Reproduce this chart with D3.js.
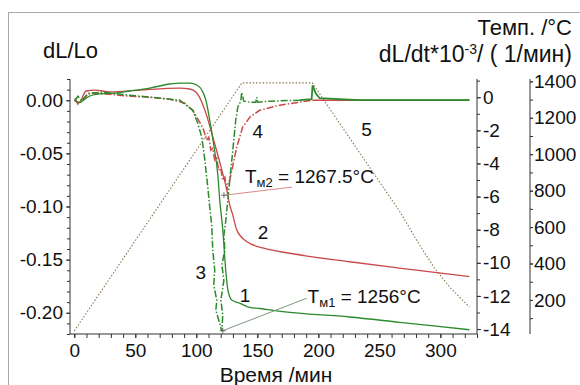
<!DOCTYPE html>
<html>
<head>
<meta charset="utf-8">
<script src="https://cdn.jsdelivr.net/npm/d3@7"></script>
<style>
  body { margin: 0; background: #fff; }
  svg { display: block; font-family: "Liberation Sans", Arial, sans-serif; }
  .axis path, .axis line { stroke: #333; }
  .axis text { font-size: 19px; fill: #111; font-family: "Liberation Sans", Arial, sans-serif; }
</style>
</head>
<body>
<svg id="chart" width="580" height="385"></svg>
<script>
// curve 1 - dL/Lo, green
const green1Time = [0, 4.7, 8.7, 12.8, 21, 33.3, 45.6, 62, 78.3, 86.5, 94.7, 100.4, 104.5, 107.8, 111, 114.3, 117.6, 119.2, 121.7, 124.1, 125.8, 129, 135.6, 143.8, 151.9, 170.7, 225.6, 266.5, 323.8];
const green1Val = [0, -0.002, 0.001, 0.004, 0.006, 0.0068, 0.0087, 0.0115, 0.0153, 0.0162, 0.0162, 0.0144, 0.0096, 0.0002, -0.0186, -0.042, -0.070, -0.094, -0.122, -0.160, -0.178, -0.188, -0.191, -0.195, -0.196, -0.199, -0.204, -0.209, -0.216];

// curve 2 - dL/Lo, red
const red2Time = [0, 3.8, 9.6, 16.9, 29.2, 53.8, 86.5, 94.7, 100.4, 107, 113.5, 120.9, 125, 127.4, 129.9, 133.1, 141.3, 154.4, 176.5, 225.6, 266.5, 323.8];
const red2Val = [0, -0.0026, 0.0087, 0.0096, 0.0078, 0.0096, 0.0115, 0.0106, 0.0068, -0.0092, -0.0346, -0.0656, -0.0845, -0.0986, -0.108, -0.122, -0.133, -0.139, -0.144, -0.152, -0.158, -0.166];

// curve 3 - dL/dt, green
const green3Time = [0.6, 3, 6.3, 11.2, 23.5, 37.4, 62, 78.3, 86.5, 97.1, 101.2, 104.5, 107, 109.4, 111, 112.6, 113.5, 115.1, 114.3, 116.8, 116, 118.4, 120.9, 121.7, 120.1, 122.6, 120.9, 123.4, 122.6, 124.2, 125.8, 127.4, 129.1, 130.7, 132.3, 134, 136.4, 137.2, 138.9, 143.8, 148.7, 149.5, 150.3, 160.1, 184.7, 194.5, 195.3, 197.8, 201.1, 233.8, 323.8];
const green3Val = [-0.18, 0.06, -0.24, 0.24, 0.3, 0.18, 0, -0.12, -0.18, -0.79, -1.57, -2.42, -3.8, -5.43, -6.64, -7.73, -9.24, -10.45, -11.35, -12.26, -12.86, -13.47, -14.13, -13.16, -12.26, -11.05, -10.14, -9.24, -8.33, -7.43, -6.22, -5.01, -3.8, -2.6, -1.39, -0.6, -0.24, 0.3, -0.24, -0.3, -0.3, 0, -0.3, -0.24, -0.18, -0.12, 0.72, 0.24, -0.06, -0.18, -0.18];

// curve 4 - dL/dt, red
const red4Time = [0.6, 3, 6.3, 11.2, 16.9, 29.2, 45.6, 62, 78.3, 90.6, 97.1, 105.2, 108.6, 110.2, 111.9, 113.5, 115.1, 116.7, 118.4, 120, 121.7, 123.4, 125, 125.8, 127.4, 133.1, 138, 143.8, 151.9, 168.3, 195.3, 233.8, 323.8];
const red4Val = [-0.06, -0.42, -0.18, 0.18, 0.24, 0.18, 0.06, 0, -0.12, -0.36, -0.79, -1.81, -2.6, -2.42, -3.2, -3.08, -3.8, -3.68, -4.41, -4.29, -5.01, -4.83, -5.62, -5.25, -5.01, -3.02, -1.81, -1.21, -0.79, -0.48, -0.18, -0.18, -0.18];

// curve 5 - temperature
const tempTime = [0, 137.4, 195, 225.6, 250.1, 266.5, 282.9, 295.2, 307.5, 323.8];
const tempVal = [30, 1392, 1392, 1089, 848, 688, 502, 375, 271, 161];

const timeTicks = [0, 50, 100, 150, 200, 250, 300];
const dlTicks = [0, -0.05, -0.10, -0.15, -0.20];
const rateTicks = [0, -2, -4, -6, -8, -10, -12, -14];
const tempTicks = [200, 400, 600, 800, 1000, 1200, 1400];

const svg = d3.select('#chart');
const plotL = 70, plotR = 477, plotT = 79, plotB = 334;

const x = d3.scaleLinear().domain([-3.5, 330]).range([plotL, plotR]);
const yL = d3.scaleLinear().domain([-0.22, 0.02]).range([plotB, plotT]);
const yR = d3.scaleLinear().domain([-14.3, 1.1]).range([plotB, plotT]);
const yT = d3.scaleLinear().domain([13, 1413]).range([plotB, plotT]);

const GREEN = '#2b8a2b', RED = '#c94a4a';

// outer frame
svg.append('rect')
  .attr('x', 8.5).attr('y', 12.5)
  .attr('width', 620).attr('height', 420)
  .attr('fill', 'none').attr('stroke', '#a8a8a8');

// axes: minor ticks first, then majors with labels
const fmt2 = d3.format('.2f');
svg.append('g').attr('class', 'axis')
  .attr('transform', `translate(${plotL},0)`)
  .call(d3.axisLeft(yL).tickValues(d3.range(-0.22, 0.021, 0.01)).tickSize(3).tickFormat(''))
  .call(g => g.select('.domain').remove());
svg.append('g').attr('class', 'axis')
  .attr('transform', `translate(${plotL},0)`)
  .call(d3.axisLeft(yL).tickValues(dlTicks).tickSize(4).tickPadding(3)
    .tickFormat(d => fmt2(d).replace('−', '-')))
  .call(g => g.select('.domain').attr('d', `M0,${plotT}V${plotB}`));

svg.append('g').attr('class', 'axis')
  .attr('transform', `translate(0,${plotB})`)
  .call(d3.axisBottom(x).tickValues(d3.range(0, 331, 10)).tickSize(4).tickFormat(''))
  .call(g => g.select('.domain').remove());
svg.append('g').attr('class', 'axis')
  .attr('transform', `translate(0,${plotB})`)
  .call(d3.axisBottom(x).tickValues(timeTicks).tickSize(4).tickPadding(6))
  .call(g => g.select('.domain').attr('d', `M${plotL},0H${plotR}`));

svg.append('g').attr('class', 'axis')
  .attr('transform', `translate(${plotR},0)`)
  .call(d3.axisRight(yR).tickValues(d3.range(-14, 1.1, 1)).tickSize(3).tickFormat(''))
  .call(g => g.select('.domain').remove());
svg.append('g').attr('class', 'axis')
  .attr('transform', `translate(${plotR},0)`)
  .call(d3.axisRight(yR).tickValues(rateTicks).tickSize(4).tickPadding(2)
    .tickFormat(d => String(d)))
  .call(g => g.select('.domain').attr('d', `M0,${plotT}V${plotB}`));

const tAxisX = 530;
svg.append('g').attr('class', 'axis')
  .attr('transform', `translate(${tAxisX},0)`)
  .call(d3.axisRight(yT).tickValues(d3.range(100, 1401, 100)).tickSize(3).tickFormat(''))
  .call(g => g.select('.domain').remove());
svg.append('g').attr('class', 'axis')
  .attr('transform', `translate(${tAxisX},0)`)
  .call(d3.axisRight(yT).tickValues(tempTicks).tickSize(3).tickPadding(1)
    .tickFormat(d => String(d)))
  .call(g => g.select('.domain').attr('d', `M0,${plotT}V${plotB}`));

// titles
const title = (tx, ty, anchor, size) => svg.append('text')
  .attr('x', tx).attr('y', ty).attr('text-anchor', anchor)
  .attr('font-size', size || 22).attr('fill', '#111');
title(43, 58, 'start').text('dL/Lo');
title(572, 35, 'end').text('Темп. /°C');
const rt = title(572, 62, 'end', 23);
rt.append('tspan').text('dL/dt*10');
rt.append('tspan').attr('font-size', 14).attr('dy', -8).text('-3');
rt.append('tspan').attr('dy', 8).text('/  ( 1/мин)');
title(276, 382, 'middle', 21).text('Время /мин');

// curves
const zip = (a, b) => a.map((d, i) => [d, b[i]]);
const draw = (pts, ys, color, opts = {}) => svg.append('path')
  .datum(pts)
  .attr('fill', 'none')
  .attr('stroke', color)
  .attr('stroke-width', opts.width || 1.3)
  .attr('stroke-dasharray', opts.dash || null)
  .attr('d', d3.line().x(d => x(d[0])).y(d => ys(d[1])).curve(opts.curve || d3.curveLinear));

draw(zip(tempTime, tempVal), yT, '#8a7850', { width: 1.1, dash: '1.5,1.8' });

const g3 = zip(green3Time, green3Val);
const r4 = zip(red4Time, red4Val);
draw(r4.filter(d => d[0] < 196), yR, RED, { width: 1.5, dash: '7,2,1.5,2' });
draw(r4.filter(d => d[0] >= 195), yR, RED, { width: 1.5 });
draw(zip(red2Time, red2Val), yL, RED, { curve: d3.curveMonotoneX });
draw(zip(green1Time, green1Val), yL, GREEN, { curve: d3.curveMonotoneX });
draw(g3.filter((d, i) => i <= 44), yR, GREEN, { width: 1.5, dash: '7,2,1.5,2' });
draw(g3.filter((d, i) => i >= 44), yR, GREEN, { width: 1.8 });

// melting point annotations (time, dL/dt coordinates)
const marks = [
  { t: 122.6, v: -5.92, t2: 178.4, v2: -5.43, color: '#d88a8a', tx: 139.9, tv: -5.19, sub: 'м2', val: ' = 1267.5°C' },
  { t: 121.7, v: -14.1, t2: 190.5, v2: -12.14, color: '#7f9a7f', tx: 191.2, tv: -12.44, sub: 'м1', val: ' = 1256°C' }
];
marks.forEach(m => {
  svg.append('line')
    .attr('x1', x(m.t)).attr('y1', yR(m.v)).attr('x2', x(m.t2)).attr('y2', yR(m.v2))
    .attr('stroke', m.color).attr('stroke-width', 1);
  svg.append('path')
    .attr('d', `M${x(m.t) - 3},${yR(m.v)}h6M${x(m.t)},${yR(m.v) - 3}v6`)
    .attr('stroke', '#555').attr('stroke-width', 0.8);
  const t = svg.append('text').attr('x', x(m.tx)).attr('y', yR(m.tv))
    .attr('font-size', 19).attr('fill', '#111');
  t.append('tspan').text('T');
  t.append('tspan').attr('font-size', 13).attr('dy', 4).text(m.sub);
  t.append('tspan').attr('dy', -4).text(m.val);
});

// curve numbers
const numbers = [
  { n: '1', t: 139.9, v: -11.96 },
  { n: '2', t: 154.6, v: -8.15 },
  { n: '3', t: 103.7, v: -10.57 },
  { n: '4', t: 150.3, v: -2.05 },
  { n: '5', t: 239.5, v: -1.93 }
];
svg.selectAll('text.num').data(numbers).enter().append('text')
  .attr('class', 'num')
  .attr('x', d => x(d.t)).attr('y', d => yR(d.v))
  .attr('dy', '0.35em')
  .attr('text-anchor', 'middle')
  .attr('font-size', 19).attr('fill', '#111')
  .text(d => d.n);
</script>
</body>
</html>
